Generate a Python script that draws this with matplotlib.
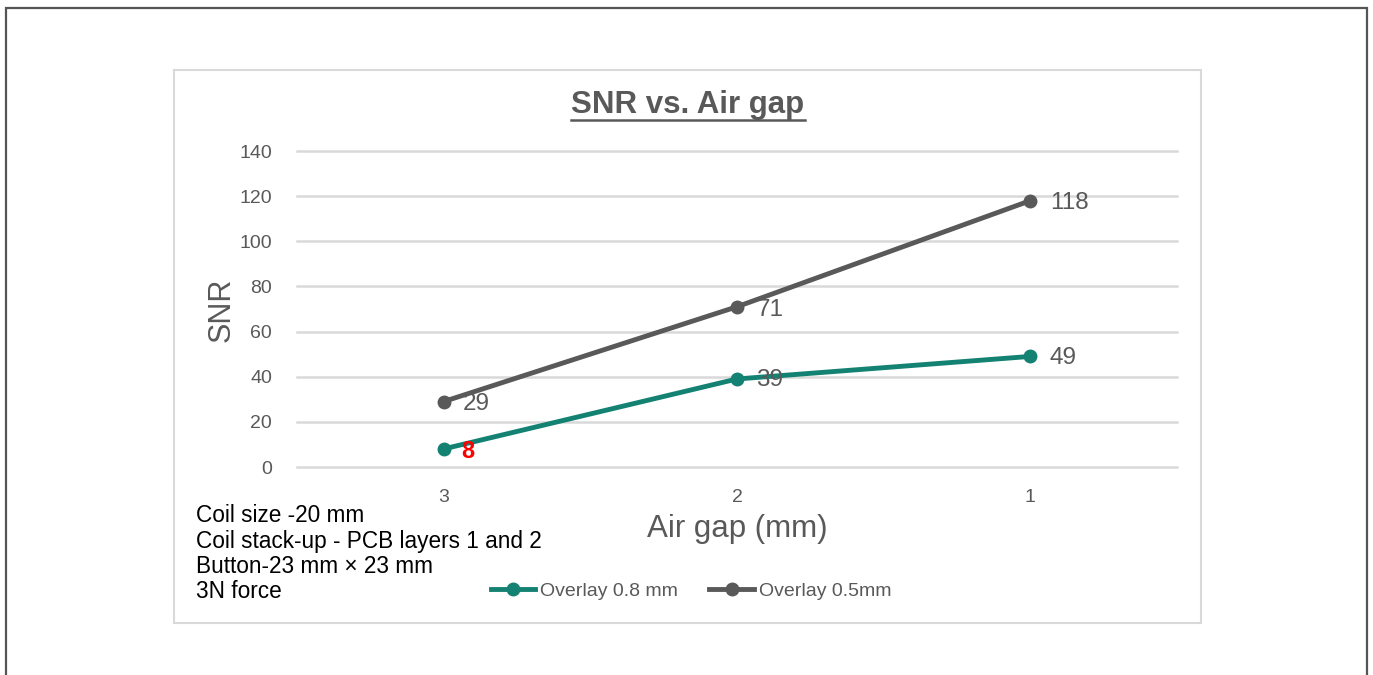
import matplotlib
matplotlib.use("Agg")
import matplotlib.pyplot as plt
from matplotlib.lines import Line2D
from matplotlib.patches import Rectangle

plt.rcParams['font.family'] = ['Liberation Sans', 'DejaVu Sans']

# Data
air_gap = ["3", "2", "1"]
snr_08 = [8, 39, 49]
snr_05 = [29, 71, 118]
series_names = ["Overlay 0.8 mm", "Overlay 0.5mm"]
y_ticks = [0, 20, 40, 60, 80, 100, 120, 140]
notes = ["Coil size -20 mm",
         "Coil stack-up - PCB layers 1 and 2",
         "Button-23 mm \u00d7 23 mm",
         "3N force"]

TEAL = "#138272"
DARK = "#595959"
GRID = "#D9D9D9"
TXT = "#595959"

W, H = 1373, 675
fig = plt.figure(figsize=(W / 100, H / 100), dpi=100)
fig.patch.set_facecolor("white")

def fx(px):
    return px / W

def fy(py):
    return 1 - py / H

# Outer frame and chart box
fig.add_artist(Rectangle((fx(6), fy(700)), fx(1367) - fx(6), fy(8) - fy(700),
                         transform=fig.transFigure, fill=False,
                         edgecolor="#555555", lw=1.6, clip_on=False))
fig.add_artist(Rectangle((fx(174), fy(623)), fx(1201) - fx(174), fy(70) - fy(623),
                         transform=fig.transFigure, fill=False,
                         edgecolor=GRID, lw=1.5))

ax = fig.add_axes([fx(297), fy(467), fx(1177) - fx(297), fy(151) - fy(467)])
ax.set_facecolor("none")
x = list(range(len(air_gap)))

for t in y_ticks:
    ax.axhline(t, color=GRID, lw=1.8, zorder=0, clip_on=False)

ax.plot(x, snr_08, color=TEAL, lw=3.5, marker="o", ms=9, zorder=3,
        solid_capstyle="round", label=series_names[0])
ax.plot(x, snr_05, color=DARK, lw=3.5, marker="o", ms=9, zorder=3,
        solid_capstyle="round", label=series_names[1])

ax.set_xlim(-0.5, len(air_gap) - 0.5)
ax.set_ylim(0, 140)
ax.set_xticks(x)
ax.set_xticklabels(air_gap)
ax.set_yticks(y_ticks)
for s in ax.spines.values():
    s.set_visible(False)
ax.tick_params(axis="both", length=0, labelsize=14, labelcolor=TXT)
ax.tick_params(axis="y", pad=18)
ax.tick_params(axis="x", pad=16)

# Data labels
for xi, v in zip(x, snr_05):
    ax.annotate(str(v), (xi, v), xytext=(14, -2), textcoords="offset points",
                ha="left", va="center", fontsize=17.5, color=TXT)
for xi, v in zip(x, snr_08):
    if xi == 0:
        ax.annotate(str(v), (xi, v), xytext=(13, -2), textcoords="offset points",
                    ha="left", va="center", fontsize=17, color="red",
                    fontweight="bold")
    else:
        ax.annotate(str(v), (xi, v), xytext=(14, -1), textcoords="offset points",
                    ha="left", va="center", fontsize=17.5, color=TXT)

# Axis titles
fig.text(fx(222), fy(310), "SNR", rotation=90, ha="center", va="center",
         fontsize=22, color=TXT)
fig.text(fx(737), fy(529), "Air gap (mm)", ha="center", va="center",
         fontsize=22.5, color=TXT)

# Chart title with underline
title = fig.text(fx(688), fy(105), "SNR vs. Air gap", ha="center", va="center",
                 fontsize=22.5, fontweight="bold", color=TXT)
fig.canvas.draw()
bb = title.get_window_extent(renderer=fig.canvas.get_renderer())
uy = fy(120)
fig.add_artist(Line2D([bb.x0 / W, bb.x1 / W], [uy, uy], transform=fig.transFigure,
                      color=TXT, lw=1.8))

# Notes
for i, line in enumerate(notes):
    fig.text(fx(196), fy(516 + 25.3 * i), line, ha="left", va="center",
             fontsize=16.3, color="black")

# Legend
handles = [Line2D([0], [0], color=TEAL, lw=3.5, marker="o", ms=9),
           Line2D([0], [0], color=DARK, lw=3.5, marker="o", ms=9)]
fig.legend(handles, series_names, loc="center", bbox_to_anchor=(fx(691), fy(591)),
           ncol=2, frameon=False, fontsize=14, labelcolor=TXT,
           handlelength=2.3, handletextpad=0.25, columnspacing=1.6)

fig.savefig("out.png", dpi=100)
